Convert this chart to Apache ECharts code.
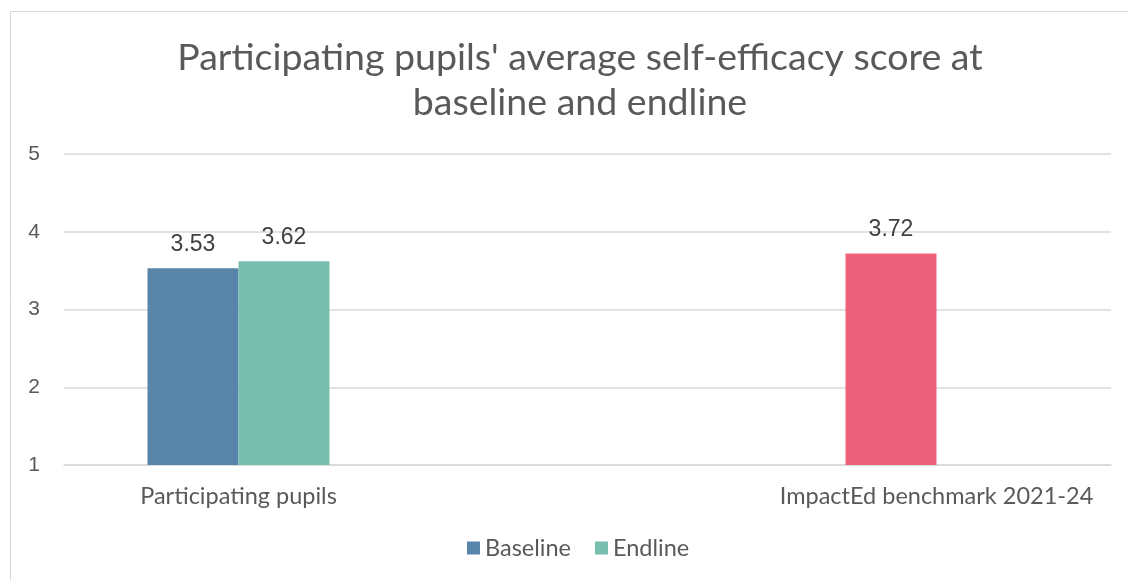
<!DOCTYPE html>
<html>
<head>
<meta charset="utf-8">
<script src="https://cdn.jsdelivr.net/npm/echarts@6/dist/echarts.min.js"></script>
<style>
  html, body { margin: 0; padding: 0; background: #fff; }
  #chart { width: 1128px; height: 580px; }
</style>
</head>
<body>
<div id="chart"></div>
<script>
// Category slots: the middle slot is left empty as a spacer
const categories = ['Participating pupils', '', 'ImpactEd benchmark 2021-24'];
const baselineValues = [3.53, null, null];
const endlineValues = [3.62, null, null];
const benchmarkValues = [null, null, 3.72];
const yTicks = [1, 2, 3, 4, 5];

const titleText = "Participating pupils' average self-efficacy score at\nbaseline and endline";

const chart = echarts.init(document.getElementById('chart'), null, { renderer: 'canvas' });

const valueLabel = {
  show: true,
  position: 'top',
  distance: 12,
  color: '#404040',
  fontSize: 23,
  fontFamily: 'Liberation Sans, Arial, sans-serif',
  formatter: p => p.value == null ? '' : Number(p.value).toFixed(2)
};

chart.setOption({
  animation: false,
  backgroundColor: '#ffffff',
  graphic: [{
    type: 'rect',
    shape: { x: 10.5, y: 11.5, width: 1200, height: 600 },
    style: { fill: 'none', stroke: '#d9d9d9', lineWidth: 1 },
    silent: true,
    z: -1
  }],
  title: {
    text: titleText,
    left: 575,
    textAlign: 'center',
    top: 30,
    textStyle: {
      fontFamily: 'Lato, sans-serif',
      fontWeight: 'normal',
      fontSize: 37.5,
      lineHeight: 45,
      color: '#595959'
    }
  },
  legend: {
    data: ['Baseline', 'Endline'],
    bottom: 15,
    left: 462,
    icon: 'rect',
    itemWidth: 13,
    itemHeight: 13,
    itemGap: 24,
    textStyle: {
      fontFamily: 'Lato, sans-serif',
      fontSize: 23.5,
      color: '#595959',
      padding: [0, 0, 0, 0]
    }
  },
  grid: {
    left: 64,
    right: 17,
    top: 154,
    bottom: 115,
    containLabel: false
  },
  xAxis: {
    type: 'category',
    data: categories,
    axisTick: { show: false },
    axisLine: { show: true, lineStyle: { color: '#d9d9d9', width: 1.5 } },
    axisLabel: {
      interval: 0,
      margin: 19,
      fontFamily: 'Lato, sans-serif',
      fontSize: 23.5,
      color: '#595959'
    }
  },
  yAxis: {
    type: 'value',
    min: yTicks[0],
    max: yTicks[yTicks.length - 1],
    interval: 1,
    axisLine: { show: false },
    axisTick: { show: false },
    splitLine: { lineStyle: { color: '#d9d9d9', width: 1.5 } },
    axisLabel: {
      margin: 24,
      fontFamily: 'Liberation Sans, Arial, sans-serif',
      fontSize: 21,
      color: '#595959'
    }
  },
  series: [
    {
      name: 'Baseline',
      type: 'bar',
      stack: 'first',
      data: baselineValues,
      barWidth: 91,
      barGap: '0%',
      itemStyle: { color: '#5a85aa' },
      label: valueLabel
    },
    {
      name: 'Endline',
      type: 'bar',
      data: endlineValues,
      barWidth: 91,
      barGap: '0%',
      itemStyle: { color: '#79bfb0' },
      label: valueLabel
    },
    {
      name: 'ImpactEd benchmark 2021-24',
      type: 'bar',
      stack: 'first',
      data: benchmarkValues,
      barWidth: 91,
      barGap: '0%',
      itemStyle: { color: '#ec617c' },
      label: valueLabel
    }
  ]
});
</script>
</body>
</html>
